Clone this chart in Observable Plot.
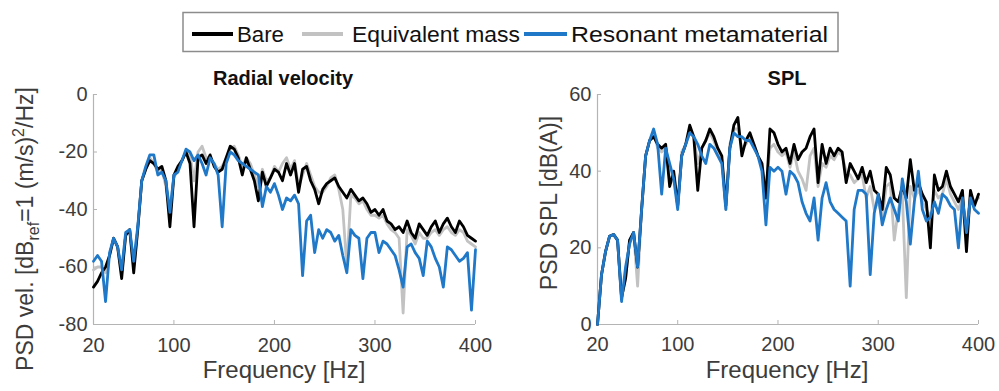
<!DOCTYPE html>
<html><head><meta charset="utf-8">
<script src="https://cdn.jsdelivr.net/npm/d3@7"></script>
<script src="https://cdn.jsdelivr.net/npm/@observablehq/plot@0.6"></script>
<style>
body{margin:0;background:#fff;}
#root{position:relative;width:999px;height:391px;overflow:hidden;background:#fff;}
#root svg.plotbox{position:absolute;}
#overlay{position:absolute;left:0;top:0;pointer-events:none;}
</style></head><body><div id="root"></div>
<script>
// Frequency grid [Hz]
const freq = [
  20,24,28,32,36,40,44,48,52,56,60,64,
  68,72,76,80,84,88,92,96,100,104,108,112,
  116,120,124,128,132,136,140,144,148,152,156,160,
  164,168,172,176,180,184,188,192,196,200,204,208,
  212,216,220,224,228,232,236,240,244,248,252,256,
  260,264,268,272,276,280,284,288,292,296,300,304,
  308,312,316,320,324,328,332,336,340,344,348,352,
  356,360,364,368,372,376,380,384,388,392,396,400];

// Radial velocity PSD [dB]
const velBare = [
  -67,-65,-62,-60,-56,-50,-53,-64,-49,-47,-62,-47,
  -30,-26,-23,-24,-26,-25,-30,-46,-28,-25,-23,-20,
  -24,-46,-22,-21,-24,-21,-25,-27,-26,-22,-18,-19,
  -22,-28,-22,-26,-30,-37,-27,-32,-29,-26,-27,-30,
  -24,-28,-24,-34,-26,-25,-30,-33,-38,-33,-31,-30,
  -29,-32,-34,-36,-33,-35,-37,-36,-38,-41,-40,-42,
  -40,-44,-45,-47,-46,-48,-44,-48,-50,-45,-47,-49,
  -46,-44,-48,-45,-43,-46,-48,-44,-46,-49,-50,-51];
const velEquiv = [
  -61,-60,-60,-62,-56,-50,-53,-62,-49,-47,-60,-47,
  -30,-26,-22,-24,-27,-26,-32,-40,-29,-26,-23,-20,
  -21,-30,-20,-18,-22,-22,-24,-26,-25,-22,-19,-18,
  -21,-25,-22,-24,-28,-32,-26,-30,-29,-25,-27,-24,
  -22,-26,-23,-32,-28,-24,-28,-32,-34,-34,-32,-29,
  -28,-33,-40,-60,-35,-36,-38,-37,-40,-42,-42,-43,
  -42,-45,-47,-48,-50,-76,-47,-49,-52,-48,-50,-50,
  -48,-47,-49,-47,-46,-48,-49,-47,-48,-51,-52,-53];
const velMeta = [
  -58,-56,-58,-72,-55,-50,-53,-61,-48,-47,-58,-46,
  -30,-25,-21,-21,-28,-27,-30,-41,-28,-27,-23,-19,
  -20,-23,-21,-24,-28,-22,-24,-28,-46,-24,-20,-21,
  -23,-24,-25,-26,-27,-28,-39,-32,-34,-31,-35,-40,
  -36,-37,-35,-38,-63,-44,-42,-55,-47,-50,-47,-48,
  -51,-49,-56,-62,-47,-49,-50,-64,-50,-48,-48,-55,
  -51,-52,-54,-56,-61,-67,-53,-52,-55,-57,-63,-51,
  -53,-57,-60,-67,-53,-54,-56,-58,-57,-55,-75,-54];

// SPL PSD [dB(A)]
const splBare = [
  0,13,19,23,23.5,22,7,12,22,24,15,30,
  44,48,49,47,46,47,36,40,31,44,47,52,
  49,35,46,48,51,49,46,44,31,46,52,54,
  44,48,50,47,44,42,33,51,50,47,45,46,
  42,47,43,45,46,49,51,37,47,42,46,44,
  46,45,37,42,40,38,41,37,40,35,34,30,
  41,39,33,32,36,33,43,35,37,34,32,20,
  39,35,36,40,36,34,32,35,19,35,31,34];
const splEquiv = [
  0,13,19,23,23.5,22,7,12,22,24,10,30,
  44,48,50,46,45,46,38,39,31,45,47,50,
  49,42,46,48,50,48,45,43,30,47,51,51,
  46,47,49,47,44,42,35,46,47,45,44,45,
  41,45,40,38,35,44,46,36,42,41,44,43,
  45,44,40,39,37,38,39,33,36,30,32,28,
  36,37,22,30,34,7,36,33,35,33,30,28,
  35,33,34,38,34,32,30,33,25,34,32,33];
const splMeta = [
  0,13,19,23,23.5,22,6,15,21,24,15,30,
  44,48,51,47,34,46,42,38,30,44,47,50,
  49,47,44,42,47,46,44,42,30,46,50,49,
  49,48,48,46,44,40,26,41,40,41,40,34,
  40,39,37,32,29,27,33,22,33,37,32,30,
  29,28,27,10,30,35,35,34,13,29,34,26,
  30,33,30,27,38,32,21,32,40,30,27,28,
  32,29,34,33,31,30,20,33,24,33,30,29];

const seriesNames = ["Bare", "Equivalent mass", "Resonant metamaterial"];
const seriesColors = ["#000000", "#c2c2c2", "#1f78c8"];
const xTicks = [20, 100, 200, 300, 400];
const velTicks = [-80, -60, -40, -20, 0];
const splTicks = [0, 20, 40, 60];
const titles = ["Radial velocity", "SPL"];

const FONT = "'Liberation Sans', Arial, Helvetica, sans-serif";
const AXIS = "#b4b4b4";
const TXT = "#3c3c3c";

function table(vals) { return freq.map((f, i) => ({f, v: vals[i]})); }

function panel({left, width, marginLeft, marginRight, yDomain, yTicks, series, padX}) {
  const top = 60, height = 331, marginTop = 34, marginBottom = 67;
  const plotH = height - marginTop - marginBottom;
  const plotW = width - marginLeft - marginRight;
  // draw order: equivalent mass, bare, metamaterial
  const order = [1, 0, 2];
  const svg = Plot.plot({
    width, height, marginLeft, marginRight, marginTop, marginBottom,
    x: {domain: [20, 400]},
    y: {domain: yDomain},
    style: {fontSize: "20px", fontFamily: FONT, color: TXT, background: "transparent", overflow: "visible"},
    marks: [
      Plot.ruleX([20], {stroke: AXIS, strokeWidth: 1.2}),
      Plot.ruleY([yDomain[0]], {stroke: AXIS, strokeWidth: 1.2}),
      Plot.ruleX(xTicks.slice(1), {stroke: AXIS, insetTop: plotH - 4}),
      Plot.ruleY(yTicks.slice(1), {stroke: AXIS, insetRight: plotW - 4}),
      Plot.axisX({ticks: xTicks, tickSize: 0, tickPadding: padX, label: null, tickFormat: d => String(d)}),
      Plot.axisY({ticks: yTicks, tickSize: 0, tickPadding: 6, label: null, tickFormat: d => String(d)}),
      ...order.map(k => Plot.line(table(series[k]), {x: "f", y: "v", stroke: seriesColors[k], strokeWidth: 2.8, strokeLinejoin: "round"}))
    ]
  });
  svg.classList.add("plotbox");
  svg.style.left = left + "px";
  svg.style.top = top + "px";
  return svg;
}

const root = document.getElementById("root");
root.appendChild(panel({left: 0, width: 490, marginLeft: 93, marginRight: 15,
  yDomain: [-80, 0], yTicks: velTicks, series: [velBare, velEquiv, velMeta], padX: 13}));
root.appendChild(panel({left: 490, width: 509, marginLeft: 107, marginRight: 21,
  yDomain: [0, 60], yTicks: splTicks, series: [splBare, splEquiv, splMeta], padX: 12}));

// Overlay: titles, axis labels, legend (real text)
const NS = "http://www.w3.org/2000/svg";
const ov = document.createElementNS(NS, "svg");
ov.setAttribute("id", "overlay");
ov.setAttribute("width", 999);
ov.setAttribute("height", 391);
ov.style.fontFamily = FONT;
root.appendChild(ov);
function txt(parent, x, y, s, attrs = {}) {
  const t = document.createElementNS(NS, "text");
  t.setAttribute("x", x); t.setAttribute("y", y);
  for (const k in attrs) t.setAttribute(k, attrs[k]);
  if (s != null) t.textContent = s;
  parent.appendChild(t);
  return t;
}
function el(parent, name, attrs) {
  const e = document.createElementNS(NS, name);
  for (const k in attrs) e.setAttribute(k, attrs[k]);
  parent.appendChild(e);
  return e;
}
// titles
txt(ov, 283, 85, titles[0], {"text-anchor": "middle", "font-size": 20, "font-weight": "bold", fill: "#111"});
txt(ov, 787, 85, titles[1], {"text-anchor": "middle", "font-size": 20, "font-weight": "bold", fill: "#111"});
// x labels
txt(ov, 284, 377.5, "Frequency [Hz]", {"text-anchor": "middle", "font-size": 24, fill: TXT});
txt(ov, 787, 377.5, "Frequency [Hz]", {"text-anchor": "middle", "font-size": 24, fill: TXT});
// y labels
const yl = txt(ov, 0, 0, null, {"text-anchor": "middle", "font-size": 23, fill: TXT, transform: "translate(33,229) rotate(-90)"});
function tsp(parent, s, attrs = {}) {
  const t = document.createElementNS(NS, "tspan");
  for (const k in attrs) t.setAttribute(k, attrs[k]);
  t.textContent = s; parent.appendChild(t); return t;
}
tsp(yl, "PSD vel. [dB");
tsp(yl, "ref", {"font-size": 16, dy: 6});
tsp(yl, "=1 (m/s)", {dy: -6});
tsp(yl, "2", {"font-size": 16, dy: -9});
tsp(yl, "/Hz]", {dy: 9});
txt(ov, 0, 0, "PSD SPL [dB(A)]", {"text-anchor": "middle", "font-size": 23, fill: TXT, transform: "translate(557,203) rotate(-90)"});
// legend
el(ov, "rect", {x: 183, y: 12.5, width: 655, height: 39, fill: "#fff", stroke: "#8c8c8c", "stroke-width": 1.5});
const legX = [[192, 233, 237, 47], [302, 343, 352, 168], [524, 567, 571, 257]];
seriesNames.forEach((name, k) => {
  const [a, b, tx, w] = legX[k];
  el(ov, "line", {x1: a, x2: b, y1: 34, y2: 34, stroke: seriesColors[k], "stroke-width": 4});
  txt(ov, tx, 41.5, name, {"font-size": 22.5, fill: "#111", textLength: w, lengthAdjust: "spacingAndGlyphs"});
});
</script></body></html>
